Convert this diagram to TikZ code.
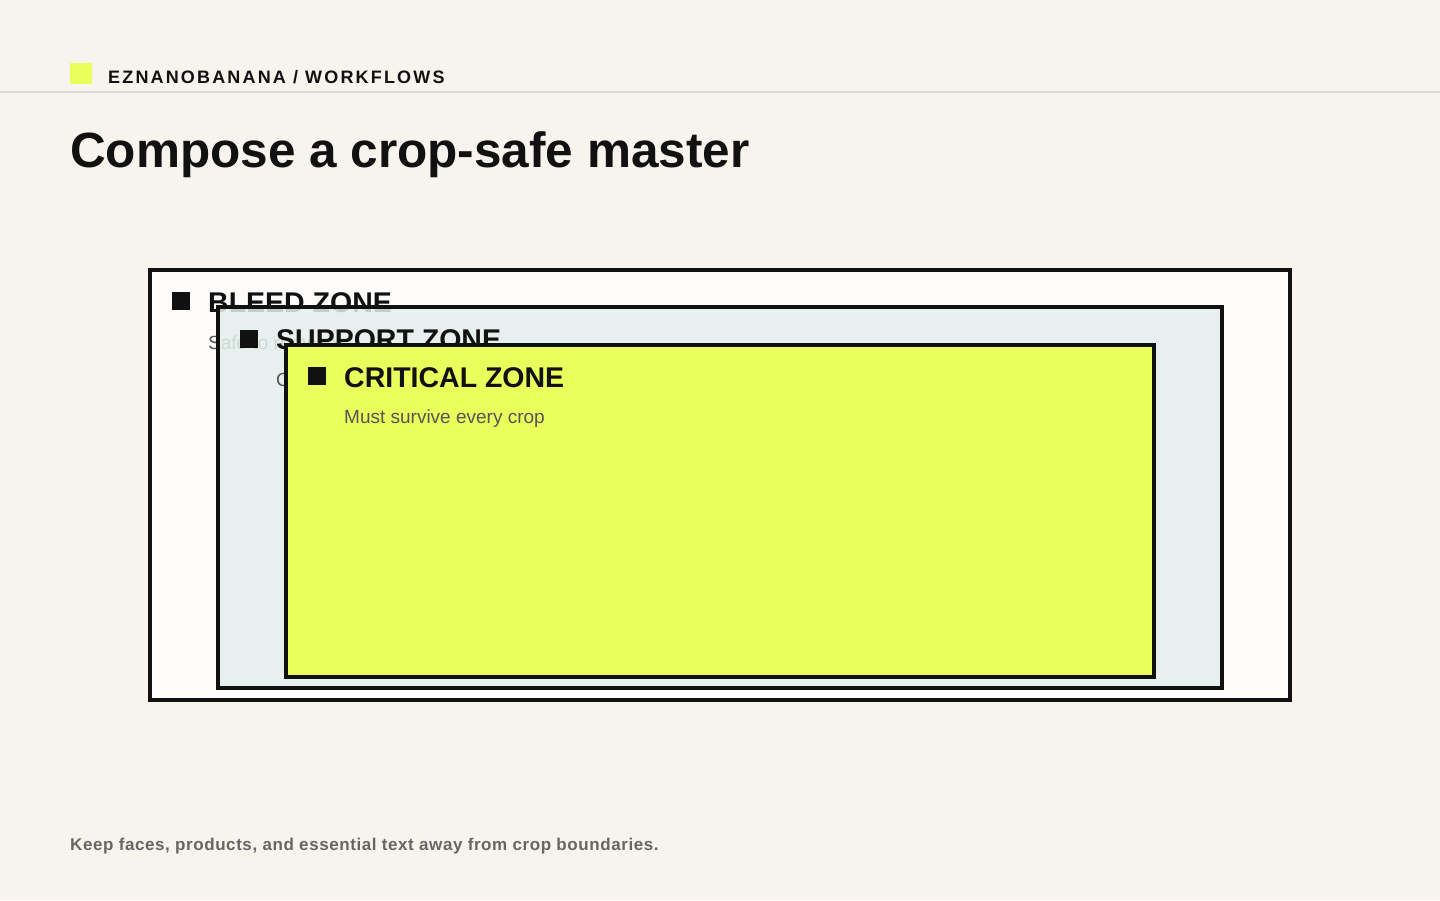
\documentclass[tikz,border=0pt]{standalone}
\usepackage{fontspec}
\setmainfont{Liberation Sans}
\newfontfamily\headfont[LetterSpace=12]{Liberation Sans}
\newfontfamily\footfont[LetterSpace=3.4]{Liberation Sans}
\usetikzlibrary{%
  calc,
  positioning,
  backgrounds,
}
\definecolor{paper}{HTML}{F7F4EE}
\definecolor{rule}{HTML}{DDDBD6}
\definecolor{ink}{HTML}{111111}
\definecolor{bleedfill}{HTML}{FDFCFB}
\definecolor{supportfill}{HTML}{E4EFEC}
\definecolor{critfill}{HTML}{E9FF5B}
\definecolor{notegray}{HTML}{555555}
\definecolor{footgray}{HTML}{666666}

\tikzset{
  zonebox/.style = {draw = ink, line width = 3.5pt},
  zonemark/.style = {
    fill = ink, inner sep = 0pt,
    minimum size = 18pt, anchor = north west,
  },
  zonetitle/.style = {
    anchor = base west, inner sep = 0pt, text = ink,
    font = \fontsize{28.5}{34}\selectfont\bfseries,
  },
  zonenote/.style = {
    anchor = base west, inner sep = 0pt, text = notegray,
    font = \fontsize{19}{23}\selectfont,
  },
}

\begin{document}
\begin{tikzpicture}[x = 1pt, y = -1pt]
        % page
        \fill[paper] (0,0) rectangle (1440,900);
        \useasboundingbox (0,0) rectangle (1440,900);

        % header
        \fill[critfill] (70,63) rectangle (92,84);
        \node (brand) [anchor = base west, inner sep = 0pt, text = ink,
          font = \fontsize{18}{22}\headfont\bfseries] at (108,83)
          {EZNANOBANANA / WORKFLOWS};
        \draw[rule, line width = 2pt] (0,91.5) -- (1440,91.5);
        \node (title) [anchor = base west, inner sep = 0pt, text = ink,
          font = \fontsize{49.5}{58}\selectfont\bfseries] at (70,167)
          {Compose a crop-safe master};

        % bleed zone
        \filldraw[zonebox, fill = bleedfill, line width = 4pt]
          (150,270) rectangle (1290,700);
        \node (bleedmark) [zonemark] at (172,292) {};
        \node (bleed) [zonetitle] at (208,312) {BLEED ZONE};
        \node (bleednote) [zonenote] at (208,349) {Safe to remove};

        % support zone
        \fill[supportfill, fill opacity = 0.85] (218,307) rectangle (1222,688);
        \draw[zonebox] (218,307) rectangle (1222,688);
        \node (supportmark) [zonemark] at (240,330) {};
        \node (support) [zonetitle] at (276,349) {SUPPORT ZONE};
        \node (supportnote) [zonenote] at (276,386) {Can be cropped};

        % critical zone
        \filldraw[zonebox, fill = critfill] (286,345) rectangle (1154,677);
        \node (critmark) [zonemark] at (308,367) {};
        \node (crit) [zonetitle] at (344,387) {CRITICAL ZONE};
        \node (critnote) [zonenote] at (344,423) {Must survive every crop};

        % footer
        \node (foot) [anchor = base west, inner sep = 0pt, text = footgray,
          font = \fontsize{17}{20}\footfont\bfseries] at (70,850)
          {Keep faces, products, and essential text away from crop boundaries.};
      \end{tikzpicture}
\end{document}
